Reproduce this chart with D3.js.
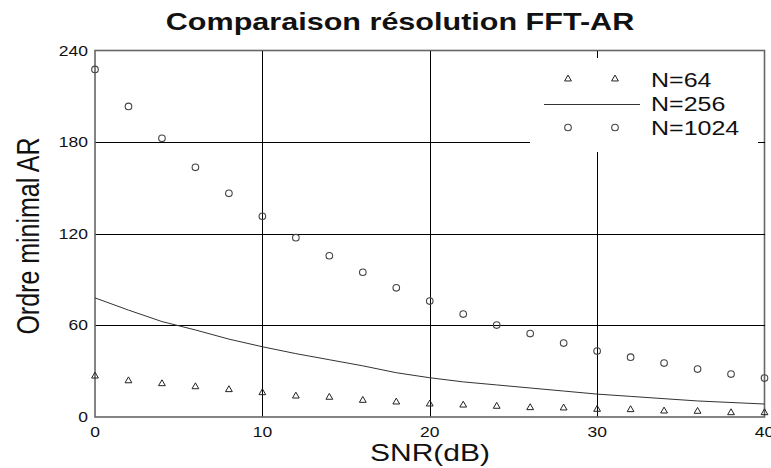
<!DOCTYPE html>
<html><head><meta charset="utf-8">
<script src="https://cdn.jsdelivr.net/npm/d3@7"></script>
<style>body{margin:0;background:#fff}svg{display:block}text{font-family:"Liberation Sans",Arial,sans-serif}</style>
</head><body><svg id="c" width="771" height="468"></svg>
<script>
const snr = [0,2,4,6,8,10,12,14,16,18,20,22,24,26,28,30,32,34,36,38,40];
const n64 = [26.8,23.7,21.8,19.8,17.9,15.9,13.7,12.9,10.9,9.8,8.5,7.8,7.0,6.1,5.9,5.0,4.8,3.9,3.7,2.8,2.8];
const n256 = [78,70,62.5,57,51,46,41.5,37.5,33.5,29,25.7,23,21,19,17,15,13.5,12,10.5,9.5,8.5];
const n1024 = [227.6,203.4,182.5,163.5,146.5,131.4,117.4,105.6,94.8,84.6,75.9,67.4,60.2,54.6,48.4,43.2,39.2,35.3,31.4,28.1,25.5];
const xTicks = [0,10,20,30,40];
const yTicks = [0,60,120,180,240];
const legendLabels = ["N=64","N=256","N=1024"];
const title = "Comparaison résolution FFT-AR";
const xLabel = "SNR(dB)";
const yLabel = "Ordre minimal AR";

const SX = 1.25;
const svg = d3.select("#c");
const x = d3.scaleLinear().domain([0,40]).range([95,764.5]);
const y = d3.scaleLinear().domain([0,240]).range([417,50.5]);

function txt(g, px, py, s, size, anchor, extra, sx){
  const t = g.append("g").attr("transform",`translate(${px},${py}) scale(${sx||SX},1)` + (extra||""))
    .append("text").text(s).attr("font-size",size).attr("text-anchor",anchor).attr("fill","#111");
  return t;
}

// gridlines
const grid = svg.append("g").attr("stroke","#000").attr("stroke-width",1).attr("shape-rendering","crispEdges");
grid.selectAll(".gx").data(xTicks.slice(1,-1)).join("line")
  .attr("x1",d=>Math.round(x(d))+0.5).attr("x2",d=>Math.round(x(d))+0.5).attr("y1",y(0)).attr("y2",y(240));
grid.selectAll(".gy").data(yTicks.slice(1,-1)).join("line")
  .attr("y1",d=>Math.round(y(d))+0.5).attr("y2",d=>Math.round(y(d))+0.5).attr("x1",x(0)).attr("x2",x(40));

// legend background
svg.append("rect").attr("x",530).attr("y",57).attr("width",228).attr("height",95).attr("fill","#fff");

// frame
svg.append("rect").attr("x",x(0)).attr("y",y(240)).attr("width",x(40)-x(0)).attr("height",y(0)-y(240))
  .attr("fill","none").attr("stroke","#666").attr("stroke-width",1.6);

// inner ticks
svg.append("g").selectAll("line").data(xTicks.slice(1,-1)).join("line")
  .attr("x1",d=>Math.round(x(d))+0.5).attr("x2",d=>Math.round(x(d))+0.5).attr("y1",y(240)).attr("y2",y(240)+7)
  .attr("stroke","#000").attr("shape-rendering","crispEdges");
svg.append("g").selectAll("line").data(yTicks.slice(1,-1)).join("line")
  .attr("y1",d=>Math.round(y(d))+0.5).attr("y2",d=>Math.round(y(d))+0.5).attr("x1",x(40)).attr("x2",x(40)-7)
  .attr("stroke","#000").attr("shape-rendering","crispEdges");

// tick labels
const tl = svg.append("g");
yTicks.forEach(v=>txt(tl, 88, y(v)+5, String(v), 14, "end"));
xTicks.forEach(v=>txt(tl, x(v), 437, String(v), 14, "middle"));

// N=256 line
svg.append("path").datum(snr.map((s,i)=>[s,n256[i]]))
  .attr("d",d3.line().x(d=>x(d[0])).y(d=>y(d[1])))
  .attr("fill","none").attr("stroke","#333").attr("stroke-width",1);

// triangles
const tri = d3.symbol().type(d3.symbolTriangle).size(20);
svg.append("g").selectAll("path").data(snr.map((s,i)=>[s,n64[i]])).join("path")
  .attr("d",tri).attr("transform",d=>`translate(${x(d[0])},${y(d[1])})`)
  .attr("fill","none").attr("stroke","#222").attr("stroke-width",1);
// circles
svg.append("g").selectAll("circle").data(snr.map((s,i)=>[s,n1024[i]])).join("circle")
  .attr("cx",d=>x(d[0])).attr("cy",d=>y(d[1])).attr("r",3.3)
  .attr("fill","none").attr("stroke","#444").attr("stroke-width",1.1);

// legend
const lg = svg.append("g");
[568,615].forEach(px=>{
  lg.append("path").attr("d",tri).attr("transform",`translate(${px},79)`).attr("fill","none").attr("stroke","#222");
  lg.append("circle").attr("cx",px).attr("cy",127.5).attr("r",3.3).attr("fill","none").attr("stroke","#444").attr("stroke-width",1.1);
});
lg.append("line").attr("x1",544).attr("x2",640).attr("y1",104.5).attr("y2",104.5).attr("stroke","#333");
legendLabels.forEach((s,i)=>txt(lg, 651, 87+i*24, s, 20, "start"));

// title & axis labels
txt(svg, 400, 30, title, 23.5, "middle", "", 1.3).attr("font-weight","bold");
txt(svg, 430, 461, xLabel, 24, "middle");
txt(svg, 39, 236, yLabel, 25, "middle", " rotate(-90)");
</script></body></html>
